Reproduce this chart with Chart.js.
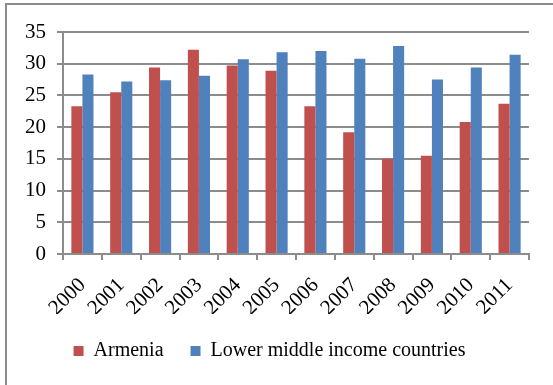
<!DOCTYPE html>
<html>
<head>
<meta charset="utf-8">
<script src="https://cdn.jsdelivr.net/npm/chart.js@4.4.1/dist/chart.umd.min.js"></script>
<style>
  html, body { margin: 0; padding: 0; background: #fff; }
  #wrap { position: relative; width: 553px; height: 385px; overflow: hidden; }
  #frame { position: absolute; left: 5px; top: 3px; width: 600px; height: 420px; border: 2px solid #8c8c8c; box-sizing: border-box; }
  canvas { position: absolute; left: 0; top: 0; }
</style>
</head>
<body>
<div id="wrap">
  <div id="frame"></div>
  <canvas id="chart" width="553" height="385"></canvas>
</div>
<script>
const years = ['2000', '2001', '2002', '2003', '2004', '2005', '2006', '2007', '2008', '2009', '2010', '2011'];
const armenia = [23.3, 25.5, 29.4, 32.2, 29.7, 28.9, 23.3, 19.2, 15.0, 15.5, 20.8, 23.7];
const lowerMiddle = [28.3, 27.2, 27.4, 28.1, 30.7, 31.8, 32.0, 30.8, 32.8, 27.5, 29.4, 31.4];

const serif = '"Times New Roman", "Liberation Serif", serif';
const gridColor = '#8c8c8c';

new Chart(document.getElementById('chart').getContext('2d'), {
  type: 'bar',
  data: {
    labels: years,
    datasets: [
      {
        label: 'Armenia',
        data: armenia,
        backgroundColor: '#c0504d',
        categoryPercentage: 0.57,
        barPercentage: 1.0,
      },
      {
        label: 'Lower middle income countries',
        data: lowerMiddle,
        backgroundColor: '#4f81bd',
        categoryPercentage: 0.57,
        barPercentage: 1.0,
      }
    ]
  },
  options: {
    responsive: false,
    animation: false,
    layout: {
      padding: { left: 10, right: 24, top: 32, bottom: 14 }
    },
    plugins: {
      tooltip: { enabled: false },
      legend: {
        position: 'bottom',
        labels: {
          boxWidth: 10,
          boxHeight: 10,
          padding: 27,
          color: '#000',
          font: { family: serif, size: 20 }
        }
      }
    },
    scales: {
      x: {
        afterFit: (scale) => { scale.height = 60; },
        grid: {
          offset: true,
          drawOnChartArea: false,
          color: gridColor,
          lineWidth: 2,
          tickLength: 6
        },
        border: { color: gridColor, width: 2 },
        ticks: {
          autoSkip: false,
          minRotation: 45,
          maxRotation: 45,
          color: '#000',
          padding: 13,
          font: { family: serif, size: 21 }
        }
      },
      y: {
        min: 0,
        max: 35,
        afterFit: (scale) => { scale.width = 53; },
        grid: {
          color: gridColor,
          lineWidth: 2,
          tickLength: 6
        },
        border: { color: gridColor, width: 2 },
        ticks: {
          stepSize: 5,
          color: '#000',
          padding: 11,
          font: { family: serif, size: 21 }
        }
      }
    }
  }
});
</script>
</body>
</html>
